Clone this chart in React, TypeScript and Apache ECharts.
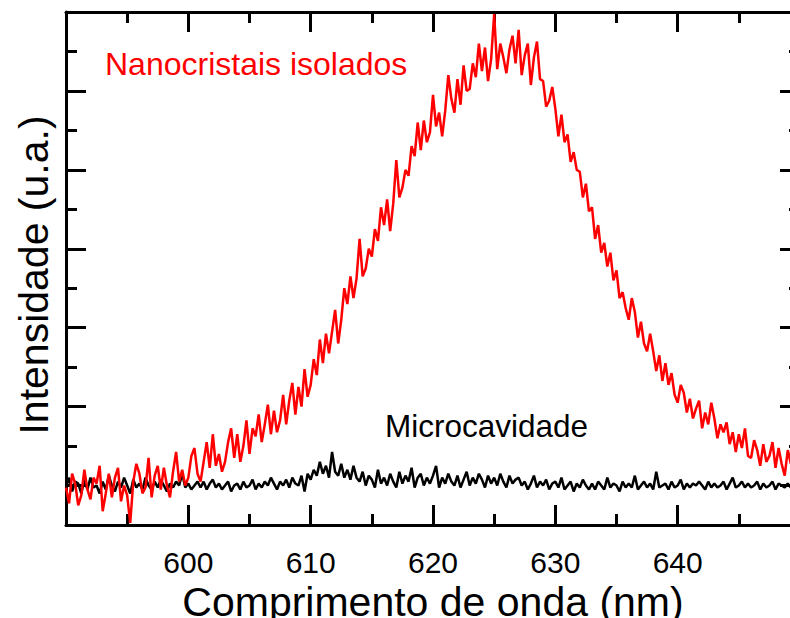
import React, { useEffect, useRef } from "react";
import * as echarts from "echarts";

// Wavelength grid (nm): first sample and spacing
const WL_START = 590;
const WL_STEP = 0.25;

// Axis ranges and tick labels
const X_MIN = 590;
const X_MAX = 650;
const X_TICK_STEP = 10;
const Y_MIN = 0;
const Y_MAX = 13;
const Y_MAJOR_TICKS = [1, 3, 5, 7, 9, 11];
const Y_MINOR_TICKS = [0, 2, 4, 6, 8, 10, 12];

const X_TITLE = "Comprimento de onda (nm)";
const Y_TITLE = "Intensidade (u.a.)";
const RED_LABEL = "Nanocristais isolados";
const BLACK_LABEL = "Microcavidade";

// Nanocristais isolados (arbitrary units)
const nanocristais = [
  0.95, 0.55, 1.3, 1.05,
  0.5, 0.75, 1.4, 0.9,
  0.65, 1.2, 1.05, 1.5,
  0.35, 0.8, 1.3, 0.7,
  1.2, 1.45, 0.6, 1.0,
  0.75, 0.05, 1.1, 1.55,
  1.3, 0.8, 0.95, 1.7,
  0.7, 1.25, 1.5, 0.9,
  1.45, 1.0, 0.7, 1.35,
  1.85, 1.1, 1.4, 1.0,
  1.2, 1.75, 1.95, 1.3,
  1.1, 1.6, 2.1, 1.45,
  2.3, 1.5, 1.8, 1.35,
  1.6, 2.1, 2.45, 1.7,
  2.3, 1.6, 2.0, 2.65,
  1.8, 2.45, 2.25, 2.8,
  2.1, 2.55, 3.05, 2.3,
  2.9, 2.35, 2.65, 3.3,
  2.55, 3.15, 3.6, 2.8,
  3.5, 3.0, 3.95, 3.25,
  3.55, 4.2, 3.8, 4.7,
  4.1, 4.85, 4.35, 4.9,
  5.45, 4.6, 5.2, 6.0,
  5.6, 6.3, 5.75, 6.25,
  7.25, 6.3, 6.5, 7.0,
  6.8, 7.5, 7.2, 8.05,
  7.6, 8.25, 7.45, 8.15,
  9.25, 8.3, 8.55, 9.0,
  8.85, 9.6, 9.35, 10.2,
  9.5, 10.25, 9.7, 9.95,
  10.9, 10.1, 10.45, 9.85,
  10.5, 11.4, 10.8, 10.45,
  11.3, 10.65, 11.65, 11.0,
  11.05, 11.7, 11.35, 12.2,
  11.5, 12.1, 11.25, 11.8,
  12.95, 11.55, 12.2, 11.85,
  11.45, 12.05, 12.4, 11.7,
  12.55, 11.4, 11.9, 12.2,
  11.15, 11.85, 12.25, 11.3,
  11.25, 10.6, 10.75, 11.1,
  10.55, 9.85, 10.4, 9.7,
  9.9, 9.2, 9.45, 9.0,
  8.95, 8.3, 8.65, 7.95,
  8.05, 7.25, 7.6, 6.9,
  7.15, 6.55, 6.9, 6.2,
  6.45, 5.75, 5.9, 5.5,
  5.2, 5.75, 5.4, 4.75,
  5.15, 4.6, 4.4, 4.85,
  4.4, 3.9, 4.3, 3.65,
  4.1, 3.55, 3.85, 3.3,
  3.1, 3.55, 3.35, 2.85,
  3.2, 2.7, 2.95, 3.15,
  2.45, 2.85, 2.55, 3.1,
  2.7, 2.2, 2.55, 2.35,
  2.6, 2.05, 2.35, 1.85,
  2.3, 1.95, 2.45, 1.75,
  1.7, 2.15, 1.9, 1.5,
  2.05, 1.6, 1.75, 2.1,
  1.45, 1.95, 1.55, 1.25,
  1.9, 1.55, 2.1, 1.6,
  1.7,
];

// Microcavidade
const microcavidade = [
  0.95, 1.2, 0.85, 1.1,
  1.05, 0.8, 1.15, 0.9,
  1.2, 0.95, 1.0, 0.8,
  1.1, 0.9, 1.25, 1.0,
  0.85, 1.1, 0.95, 1.2,
  1.0, 0.8, 1.15, 0.95,
  1.05, 0.9, 1.2, 1.0,
  0.9, 1.1, 0.95, 1.15,
  1.0, 0.85, 1.05, 0.95,
  1.1, 1.0, 1.3, 0.95,
  1.05, 0.9, 1.0, 1.1,
  0.95, 1.1, 0.9, 1.05,
  1.15, 0.95, 1.05, 0.9,
  1.0, 1.1, 0.85, 1.0,
  1.05, 0.9, 1.1, 0.95,
  1.0, 1.15, 0.9, 1.05,
  0.95, 1.1, 1.0, 1.2,
  1.05, 0.9, 1.1, 1.0,
  1.15, 0.95, 1.2, 1.05,
  1.0, 1.25, 0.85, 1.3,
  1.15, 1.4, 1.25, 1.6,
  1.3, 1.5, 1.2, 1.85,
  1.35, 1.25, 1.55, 1.2,
  1.4, 1.15, 1.5, 1.2,
  1.1, 1.35, 1.0, 1.25,
  1.15, 0.95, 1.4, 1.05,
  1.2, 1.0, 1.3, 1.1,
  0.95, 1.35, 1.05, 1.25,
  1.1, 1.45, 0.95, 1.2,
  1.3, 1.0, 1.2, 1.05,
  1.25, 1.5, 0.95, 1.2,
  1.05, 1.3, 1.1, 1.0,
  1.25, 0.95, 1.15, 1.35,
  1.0, 1.2, 1.05, 1.3,
  1.15, 0.95, 1.25, 1.05,
  1.2, 1.0, 1.3, 1.1,
  0.95, 1.25, 1.05, 1.15,
  1.2, 1.0, 1.1, 0.9,
  1.05, 1.25, 0.95, 1.1,
  1.0, 1.15, 0.9, 1.05,
  1.1, 0.95, 1.2, 0.9,
  1.0, 1.1, 0.85, 1.05,
  0.95, 1.15, 1.0, 0.9,
  1.05, 0.9, 1.1, 1.0,
  0.9, 1.2, 0.95, 1.05,
  1.0, 0.85, 1.1, 0.95,
  1.05, 0.95, 1.25, 0.9,
  1.0, 1.1, 0.95, 1.05,
  0.9, 1.35, 0.95, 1.0,
  1.05, 0.9, 1.1, 0.95,
  1.0, 1.15, 0.9, 1.05,
  0.95, 1.05, 1.0, 1.1,
  1.0, 0.9, 1.1, 0.95,
  1.05, 0.95, 1.0, 1.1,
  0.9, 1.05, 1.2, 0.95,
  1.0, 1.1, 0.95, 1.05,
  0.95, 1.0, 1.1, 0.9,
  1.05, 0.95, 1.0, 1.1,
  0.9, 1.05, 1.0, 0.95,
  1.05, 0.95, 1.0, 1.05,
  1.0,
];

const FONT = "'Liberation Sans', Arial, sans-serif";
const AXIS_COLOR = "#000000";

function toPairs(values: number[]) {
  return values.map((v, i) => [WL_START + i * WL_STEP, v]);
}

export default function App() {
  const ref = useRef<HTMLDivElement>(null);

  useEffect(() => {
    if (!ref.current) return;
    const chart = echarts.init(ref.current, undefined, { renderer: "svg" });

    const lineStyle = { color: AXIS_COLOR, width: 3 };
    const baseX = {
      type: "value" as const,
      min: X_MIN,
      max: X_MAX,
      interval: X_TICK_STEP,
      splitLine: { show: false },
      axisLine: { show: true, onZero: false, lineStyle },
      axisTick: { show: true, inside: true, length: 20, lineStyle },
      minorTick: { show: true, splitNumber: 2, length: 11, lineStyle },
    };
    const baseY = {
      type: "value" as const,
      min: Y_MIN,
      max: Y_MAX,
      splitLine: { show: false },
      axisLabel: { show: false },
    };

    chart.setOption({
      animation: false,
      backgroundColor: "#ffffff",
      grid: {
        left: 66,
        top: 12,
        width: 734,
        height: 513,
        containLabel: false,
        outerBoundsMode: "none",
      },
      xAxis: [
        {
          ...baseX,
          position: "bottom",
          name: X_TITLE,
          nameLocation: "middle",
          nameGap: 50,
          nameTextStyle: { fontSize: 41, color: AXIS_COLOR, fontFamily: FONT },
          axisLabel: {
            show: true,
            fontSize: 30,
            color: AXIS_COLOR,
            fontFamily: FONT,
            margin: 22,
            showMinLabel: false,
            showMaxLabel: false,
          },
        },
        {
          ...baseX,
          position: "top",
          axisLabel: { show: false },
        },
      ],
      yAxis: [
        {
          ...baseY,
          position: "left",
          name: Y_TITLE,
          nameLocation: "middle",
          nameRotate: 90,
          nameGap: 12,
          nameTextStyle: {
            fontSize: 41,
            color: AXIS_COLOR,
            fontFamily: FONT,
            padding: [0, 13, 0, 0],
          },
          axisLine: { show: true, lineStyle },
          axisTick: { show: true, inside: true, length: 20, lineStyle, customValues: Y_MAJOR_TICKS },
        },
        {
          ...baseY,
          position: "left",
          axisLine: { show: false },
          axisTick: { show: true, inside: true, length: 11, lineStyle, customValues: Y_MINOR_TICKS },
        },
        {
          ...baseY,
          position: "right",
          axisLine: { show: true, lineStyle },
          axisTick: { show: true, inside: true, length: 20, lineStyle, customValues: Y_MAJOR_TICKS },
        },
        {
          ...baseY,
          position: "right",
          axisLine: { show: false },
          axisTick: { show: true, inside: true, length: 11, lineStyle, customValues: Y_MINOR_TICKS },
        },
      ],
      series: [
        {
          name: BLACK_LABEL,
          type: "line",
          xAxisIndex: 0,
          yAxisIndex: 0,
          data: toPairs(microcavidade),
          showSymbol: false,
          symbol: "none",
          lineStyle: { color: "#000000", width: 2.5 },
          z: 2,
        },
        {
          name: RED_LABEL,
          type: "line",
          xAxisIndex: 0,
          yAxisIndex: 0,
          data: toPairs(nanocristais),
          showSymbol: false,
          symbol: "none",
          lineStyle: { color: "#ff0000", width: 2.5 },
          z: 3,
        },
      ],
      graphic: [
        {
          type: "text",
          left: 105,
          top: 48,
          style: { text: RED_LABEL, fill: "#ff0000", fontSize: 32, fontFamily: FONT },
          z: 10,
        },
        {
          type: "text",
          left: 385,
          top: 410,
          style: { text: BLACK_LABEL, fill: "#000000", fontSize: 31.5, fontFamily: FONT },
          z: 10,
        },
      ],
    });

    return () => chart.dispose();
  }, []);

  return (
    <div
      ref={ref}
      style={{ position: "fixed", left: 0, top: 0, width: 790, height: 618, background: "#fff" }}
    />
  );
}
